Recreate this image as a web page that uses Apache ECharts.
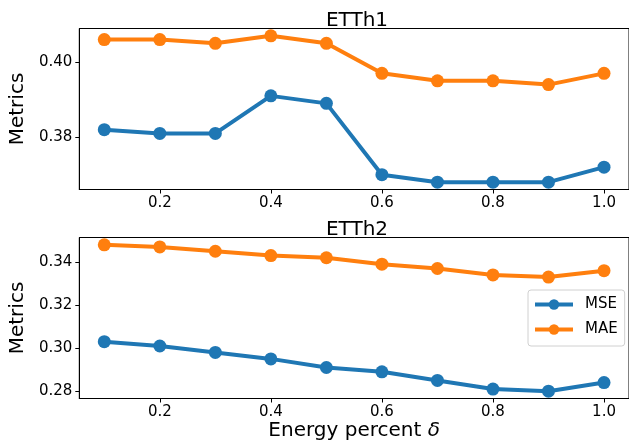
<!DOCTYPE html>
<html>
<head>
<meta charset="utf-8">
<script src="https://cdn.jsdelivr.net/npm/echarts@6/dist/echarts.min.js"></script>
<style>
html,body{margin:0;padding:0;background:#fff;}
#chart{width:629px;height:445px;}
</style>
</head>
<body>
<div id="chart"></div>
<script>
// ---- data ----
const energyPercent = [0.1, 0.2, 0.3, 0.4, 0.5, 0.6, 0.7, 0.8, 0.9, 1.0];
const etth1MSE = [0.382, 0.381, 0.381, 0.391, 0.389, 0.370, 0.368, 0.368, 0.368, 0.372];
const etth1MAE = [0.406, 0.406, 0.405, 0.407, 0.405, 0.397, 0.395, 0.395, 0.394, 0.397];
const etth2MSE = [0.303, 0.301, 0.298, 0.295, 0.291, 0.289, 0.285, 0.281, 0.280, 0.284];
const etth2MAE = [0.348, 0.347, 0.345, 0.343, 0.342, 0.339, 0.337, 0.334, 0.333, 0.336];
const xTicks = [0.2, 0.4, 0.6, 0.8, 1.0];
const y1Ticks = [0.38, 0.40];
const y2Ticks = [0.28, 0.30, 0.32, 0.34];
const titles = ['ETTh1', 'ETTh2'];
const seriesNames = ['MSE', 'MAE'];

// ---- helpers ----
function padRange(arrs) {
  const all = [].concat(...arrs);
  const lo = Math.min(...all), hi = Math.max(...all);
  const m = (hi - lo) * 0.05;
  return [lo - m, hi + m];
}
const xr = padRange([energyPercent]);
const y1r = padRange([etth1MSE, etth1MAE]);
const y2r = padRange([etth2MSE, etth2MAE]);

const FONT = 'DejaVu Sans';
const C_BLUE = '#1f77b4', C_ORANGE = '#ff7f0e';

function xAxis(idx, showName) {
  return {
    type: 'value', gridIndex: idx, min: xr[0], max: xr[1],
    axisLine: {show: true, lineStyle: {color: '#000', width: 1}},
    axisTick: {show: true, length: 4, lineStyle: {color: '#000'}, customValues: xTicks},
    axisLabel: {fontFamily: FONT, fontSize: 15, color: '#000', margin: 6,
      customValues: xTicks, formatter: v => (+v).toFixed(1)},
    splitLine: {show: false},
    name: showName ? 'Energy percent {i|δ}' : '',
    nameLocation: 'middle', nameGap: 21,
    nameTextStyle: {fontFamily: FONT, fontSize: 20, color: '#000',
      rich: {i: {fontFamily: FONT, fontSize: 20, fontStyle: 'italic', color: '#000'}}}
  };
}
function yAxis(idx, r, ticks) {
  return {
    type: 'value', gridIndex: idx, min: r[0], max: r[1],
    axisLine: {show: true, lineStyle: {color: '#000', width: 1}},
    axisTick: {show: true, length: 4, lineStyle: {color: '#000'}, customValues: ticks},
    axisLabel: {fontFamily: FONT, fontSize: 15, color: '#000', margin: 7,
      customValues: ticks, formatter: v => (+v).toFixed(2)},
    splitLine: {show: false},
    name: 'Metrics', nameLocation: 'middle', nameRotate: 90, nameGap: 44,
    nameTextStyle: {fontFamily: FONT, fontSize: 20, color: '#000'}
  };
}
function lineSeries(name, color, xi, data) {
  return {
    type: 'line', name: name, xAxisIndex: xi, yAxisIndex: xi,
    data: energyPercent.map((x, i) => [x, data[i]]),
    symbol: 'circle', symbolSize: 13,
    lineStyle: {color: color, width: 4},
    itemStyle: {color: color},
    emphasis: {disabled: true}
  };
}

const chart = echarts.init(document.getElementById('chart'), null, {renderer: 'canvas'});
chart.setOption({
  animation: false,
  backgroundColor: '#fff',
  title: [
    {text: titles[0], left: 352, top: 6, textAlign: 'center',
      textStyle: {fontFamily: FONT, fontSize: 20, fontWeight: 'normal', color: '#000'}},
    {text: titles[1], left: 352, top: 215, textAlign: 'center',
      textStyle: {fontFamily: FONT, fontSize: 20, fontWeight: 'normal', color: '#000'}}
  ],
  grid: [
    {left: 75, top: 28.5, width: 557, height: 161, show: true, borderColor: '#000', borderWidth: 1, backgroundColor: 'transparent'},
    {left: 75, top: 237.5, width: 557, height: 161, show: true, borderColor: '#000', borderWidth: 1, backgroundColor: 'transparent'}
  ],
  xAxis: [xAxis(0, false), xAxis(1, true)],
  yAxis: [yAxis(0, y1r, y1Ticks), yAxis(1, y2r, y2Ticks)],
  legend: {
    data: seriesNames, orient: 'vertical', left: 528, top: 290,
    padding: [7, 7, 9, 5], itemWidth: 38, itemHeight: 13, itemGap: 10,
    lineStyle: {width: 4},
    borderColor: '#d0d0d0', borderWidth: 1, borderRadius: 3,
    backgroundColor: 'rgba(255,255,255,0.8)',
    textStyle: {fontFamily: FONT, fontSize: 15, color: '#000', padding: [0, 0, 0, 7]}
  },
  series: [
    lineSeries(seriesNames[0], C_BLUE, 0, etth1MSE),
    lineSeries(seriesNames[1], C_ORANGE, 0, etth1MAE),
    lineSeries(seriesNames[0], C_BLUE, 1, etth2MSE),
    lineSeries(seriesNames[1], C_ORANGE, 1, etth2MAE)
  ]
});
</script>
</body>
</html>
